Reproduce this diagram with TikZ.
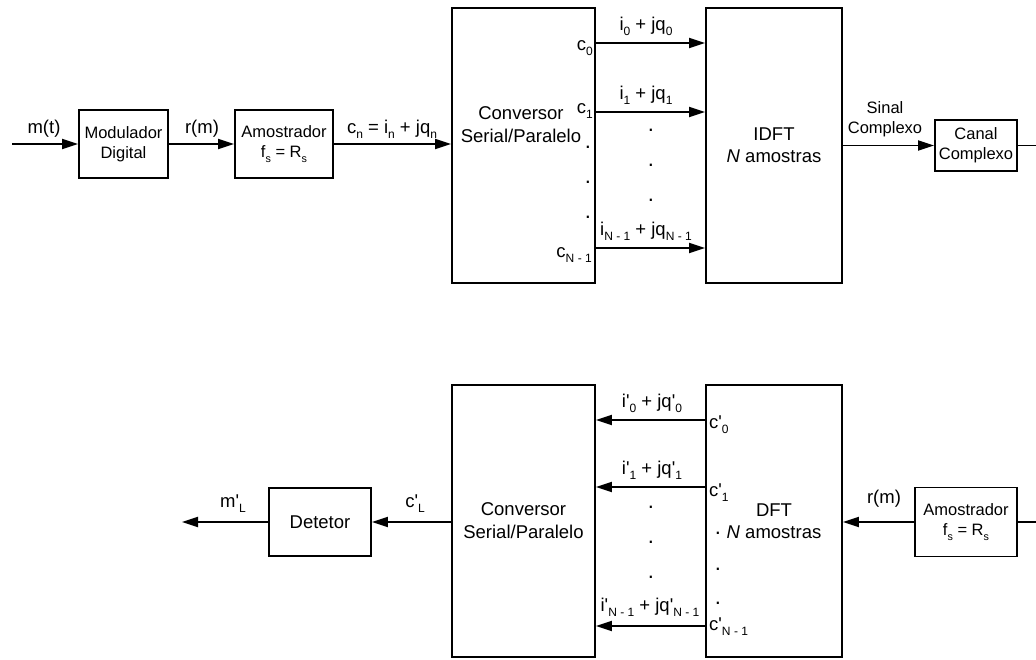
\documentclass[tikz,border=0pt]{standalone}
\usepackage{fontspec}
\setmainfont{Liberation Sans}
\usepackage{graphicx}
\usetikzlibrary{arrows.meta}
\newcommand{\subs}[1]{\raisebox{-0.3em}{\scalebox{0.65}{#1}}}
\newcommand{\pr}{\textquotesingle}

\begin{document}
\begin{tikzpicture}[x=1pt, y=-1pt,
    box/.style={draw, line width=1.8pt, inner sep=0pt, align=center, font=\fontsize{18.5}{23}\selectfont},
    sbox/.style={box, font=\fontsize{16.5}{20}\selectfont},
    lbl/.style={inner sep=0pt, anchor=base, font=\fontsize{18.5}{22}\selectfont},
    slbl/.style={lbl, font=\fontsize{16.5}{20}\selectfont},
    dot/.style={inner sep=0pt, font=\fontsize{22}{24}\selectfont},
    arr/.style={line width=1.8pt, -{Triangle[length=16pt, width=10pt]}},
    wire/.style={line width=1.8pt}]
    \useasboundingbox (0,0) rectangle (1036,659);

    % Transmissor
    \coordinate (src) at (12,144);
    \node[sbox, minimum width=89pt, minimum height=68pt] (mod) at (123.5,144) {Modulador\\Digital};
    \node[sbox, minimum width=98pt, minimum height=68pt] (amo1) at (284,144) {Amostrador\\f\subs{s} = R\subs{s}};
    \node[box, minimum width=143pt, minimum height=275pt] (cv1) at (523.5,145.5) {};
    \node[box, draw=none, align=center] (cv1txt) at (521,125) {Conversor\\Serial/Paralelo};
    \node[box, minimum width=136pt, minimum height=275pt, font=\fontsize{18.5}{22}\selectfont] (idft) at (774,145.5) {IDFT\\\textit{N} amostras};
    \node[sbox, minimum width=82pt, minimum height=51pt] (canal) at (976,145.5) {Canal\\Complexo};
    \coordinate (out1) at (1036,145.5);

    \draw[arr] (src) -- (mod.west);
    \draw[arr] (mod.east) -- (amo1.west);
    \draw[arr] (amo1.east) -- (amo1.east -| cv1.west);
    \foreach \y in {43,112,248}
        \draw[arr] (cv1.east |- 0,\y) -- (idft.west |- 0,\y);
    \draw[arr] (idft.east |- canal) -- (canal.west);
    \draw[wire] (canal.east) -- (out1);

    \node[lbl] (lmt) at (44,133) {m(t)};
    \node[lbl] (lrm1) at (202,133) {r(m)};
    \node[lbl] (lcn) at (392,133) {c\subs{n} = i\subs{n} + jq\subs{n}};
    \node[slbl, align=center, anchor=south] (lsin) at (885,137) {Sinal\\Complexo};

    \node[lbl, anchor=base east] (c0) at (593,50) {c\subs{0}};
    \node[lbl, anchor=base east] (c1) at (593,113) {c\subs{1}};
    \node[lbl, anchor=base east] (cN) at (592,257) {c\subs{N - 1}};
    \node[lbl] (s0) at (646,30) {i\subs{0} + jq\subs{0}};
    \node[lbl] (s1) at (646,99) {i\subs{1} + jq\subs{1}};
    \node[lbl] (sN) at (646,235) {i\subs{N - 1} + jq\subs{N - 1}};
    \foreach \y in {147,182,217}
        \node[dot] (ca\y) at (588,\y) {.};
    \foreach \y in {130,165,200}
        \node[dot] (cb\y) at (651,\y) {.};

    % Receptor
    \coordinate (in2) at (1036,522);
    \coordinate (snk) at (182,522);
    \node[sbox, minimum width=102pt, minimum height=69pt] (amo2) at (966,522) {Amostrador\\f\subs{s} = R\subs{s}};
    \node[box, minimum width=136pt, minimum height=272pt, font=\fontsize{18.5}{22}\selectfont] (dft) at (774,521) {DFT\\\textit{N} amostras};
    \node[box, minimum width=143pt, minimum height=272pt] (cv2) at (523.5,521) {Conversor\\Serial/Paralelo};
    \node[box, minimum width=102pt, minimum height=68pt] (det) at (320,522) {Detetor};

    \draw[wire] (in2) -- (amo2.east);
    \draw[arr] (amo2.west) -- (amo2.west -| dft.east);
    \foreach \y in {420,487,626}
        \draw[arr] (dft.west |- 0,\y) -- (cv2.east |- 0,\y);
    \draw[arr] (cv2.west |- det) -- (det.east);
    \draw[arr] (det.west) -- (snk);

    \node[lbl] (lrm2) at (884,503) {r(m)};
    \node[lbl] (lcl) at (415,507) {c\pr\subs{L}};
    \node[lbl] (lml) at (233,507) {m\pr\subs{L}};

    \node[lbl] (t0) at (652,407) {i\pr\subs{0} + jq\pr\subs{0}};
    \node[lbl] (t1) at (652,474) {i\pr\subs{1} + jq\pr\subs{1}};
    \node[lbl] (tN) at (650,611) {i\pr\subs{N - 1} + jq\pr\subs{N - 1}};
    \node[lbl, anchor=base west] (d0) at (709,428) {c\pr\subs{0}};
    \node[lbl, anchor=base west] (d1) at (709,496) {c\pr\subs{1}};
    \node[lbl, anchor=base west] (dN) at (709,630) {c\pr\subs{N - 1}};
    \foreach \y in {507,542,577}
        \node[dot] (da\y) at (651,\y) {.};
    \foreach \y in {533,569,603}
        \node[dot] (db\y) at (718,\y) {.};
\end{tikzpicture}
\end{document}
